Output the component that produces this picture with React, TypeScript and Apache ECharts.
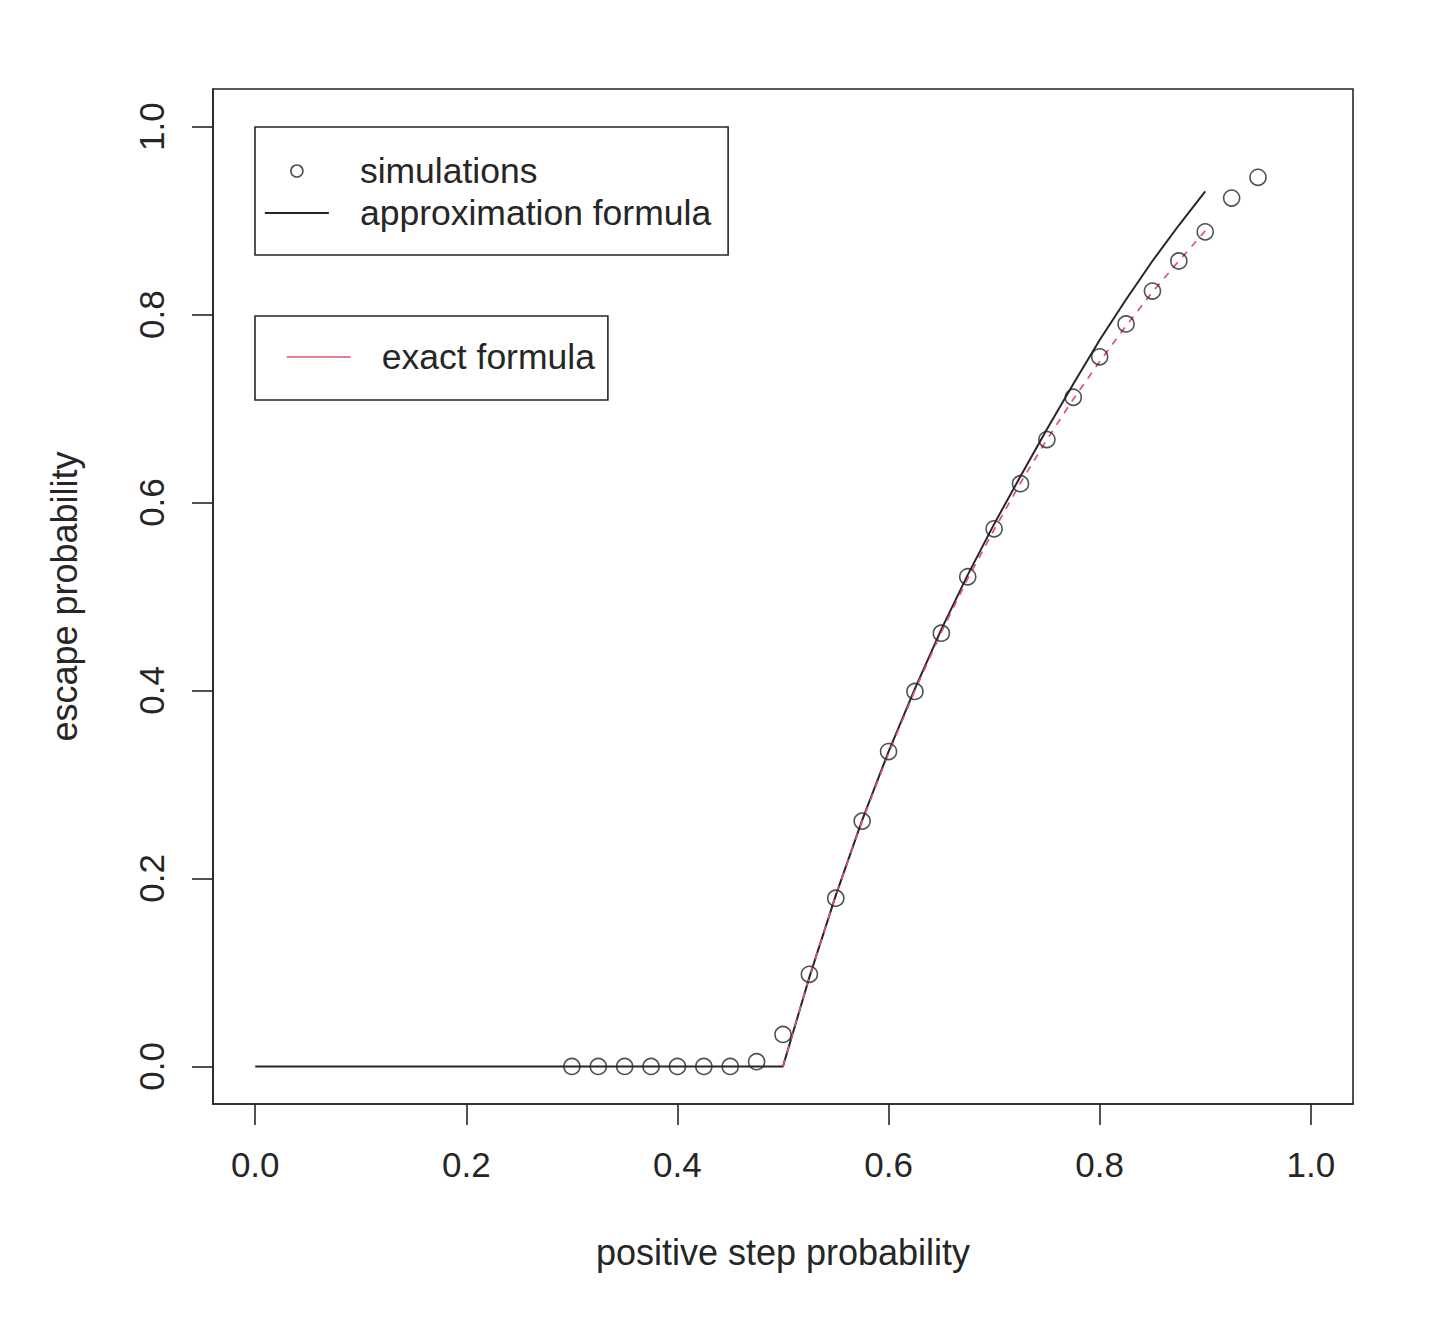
import React, { useEffect, useRef } from "react";
import * as echarts from "echarts";

// ---- data ----
const tickValues = [0, 0.2, 0.4, 0.6, 0.8, 1.0];

const simP = [0.3, 0.325, 0.35, 0.375, 0.4, 0.425, 0.45, 0.475, 0.5, 0.525, 0.55, 0.575, 0.6, 0.625, 0.65, 0.675, 0.7, 0.725, 0.75, 0.775, 0.8, 0.825, 0.85, 0.875, 0.9, 0.925, 0.95];
const simY = [0, 0, 0, 0, 0, 0, 0, 0.005, 0.034, 0.098, 0.179, 0.261, 0.335, 0.399, 0.461, 0.521, 0.572, 0.62, 0.667, 0.712, 0.755, 0.79, 0.825, 0.857, 0.888, 0.924, 0.946];

const approxP = [0, 0.025, 0.05, 0.075, 0.1, 0.125, 0.15, 0.175, 0.2, 0.225, 0.25, 0.275, 0.3, 0.325, 0.35, 0.375, 0.4, 0.425, 0.45, 0.475, 0.5, 0.525, 0.55, 0.575, 0.6, 0.625, 0.65, 0.675, 0.7, 0.725, 0.75, 0.775, 0.8, 0.825, 0.85, 0.875, 0.9];
const approxY = [0, 0, 0, 0, 0, 0, 0, 0, 0, 0, 0, 0, 0, 0, 0, 0, 0, 0, 0, 0, 0, 0.095, 0.182, 0.262, 0.335, 0.402, 0.465, 0.523, 0.577, 0.628, 0.678, 0.726, 0.773, 0.816, 0.857, 0.895, 0.931];

const exactP = [0.5, 0.525, 0.55, 0.575, 0.6, 0.625, 0.65, 0.675, 0.7, 0.725, 0.75, 0.775, 0.8, 0.825, 0.85, 0.875, 0.9];
const exactY = [0, 0.095, 0.182, 0.261, 0.333, 0.4, 0.462, 0.519, 0.571, 0.621, 0.667, 0.71, 0.75, 0.788, 0.824, 0.857, 0.889];

const xTitle = "positive step probability";
const yTitle = "escape probability";

const FONT = "'Liberation Sans', Arial, Helvetica, sans-serif";
const INK = "#262626";
const FS = 35;

export default function App() {
  const ref = useRef<HTMLDivElement>(null);

  useEffect(() => {
    if (!ref.current) return;
    const chart = echarts.init(ref.current, undefined, { renderer: "svg" });
    const zip = (a: number[], b: number[]) => a.map((v, i) => [v, b[i]]);

    const axisCommon = {
      type: "value" as const,
      min: -0.04,
      max: 1.04,
      splitLine: { show: false },
      axisLine: { show: true, onZero: false, lineStyle: { color: INK, width: 1.6 } },
      axisTick: {
        show: true,
        inside: false,
        length: 21,
        customValues: tickValues,
        lineStyle: { color: INK, width: 1.6 },
      },
      nameLocation: "middle" as const,
      nameTextStyle: { fontFamily: FONT, fontSize: 36, color: INK },
    };

    const hiddenSymbol = { color: "rgba(0,0,0,0)", borderWidth: 0, opacity: 0 };

    chart.setOption({
      animation: false,
      backgroundColor: "#ffffff",
      grid: {
        left: 213,
        top: 89,
        width: 1140,
        height: 1015,
        show: true,
        borderColor: INK,
        borderWidth: 1.6,
        backgroundColor: "transparent",
      },
      xAxis: {
        ...axisCommon,
        name: xTitle,
        nameGap: 130,
        axisLabel: {
          customValues: tickValues,
          margin: 43,
          fontFamily: FONT,
          fontSize: FS,
          color: INK,
          formatter: (v: number) => v.toFixed(1),
        },
      },
      yAxis: {
        ...axisCommon,
        name: yTitle,
        nameGap: 131,
        axisLabel: {
          customValues: tickValues,
          rotate: 90,
          margin: 44,
          fontFamily: FONT,
          fontSize: FS,
          color: INK,
          formatter: (v: number) => v.toFixed(1),
        },
      },
      legend: [
        {
          left: 255,
          top: 127,
          orient: "vertical",
          itemWidth: 64,
          itemHeight: 12,
          itemGap: 6,
          padding: [26, 17, 24, 9],
          borderColor: INK,
          borderWidth: 1.6,
          textStyle: { fontFamily: FONT, fontSize: 35.5, color: INK, lineHeight: 35, padding: [0, 0, 0, 26] },
          data: [
            {
              name: "simulations",
              icon: "circle",
              itemStyle: { color: "rgba(0,0,0,0)", borderColor: INK, borderWidth: 1.6 },
            },
            {
              name: "approximation formula",
              itemStyle: hiddenSymbol,
              lineStyle: { color: INK, width: 1.8, type: "solid" },
            },
          ],
        },
        {
          left: 255,
          top: 316,
          orient: "vertical",
          itemWidth: 64,
          itemHeight: 12,
          padding: [23, 13, 25, 31],
          borderColor: INK,
          borderWidth: 1.6,
          textStyle: { fontFamily: FONT, fontSize: 35.5, color: INK, lineHeight: 35, padding: [0, 0, 0, 26] },
          data: [
            {
              name: "exact formula",
              itemStyle: hiddenSymbol,
              lineStyle: { color: "#DF536B", width: 1.6, type: "solid" },
            },
          ],
        },
      ],
      series: [
        {
          name: "approximation formula",
          type: "line",
          data: zip(approxP, approxY),
          showSymbol: false,
          symbol: "none",
          lineStyle: { color: INK, width: 2 },
          itemStyle: { color: INK },
          z: 2,
        },
        {
          name: "exact formula",
          type: "line",
          data: zip(exactP, exactY),
          showSymbol: false,
          symbol: "none",
          lineStyle: { color: "#DF536B", width: 1.7, type: [7, 7] },
          itemStyle: { color: "#DF536B" },
          z: 3,
        },
        {
          name: "simulations",
          type: "scatter",
          data: zip(simP, simY),
          symbol: "circle",
          symbolSize: 16,
          itemStyle: { color: "rgba(0,0,0,0)", borderColor: INK, borderWidth: 1.6 },
          z: 4,
        },
      ],
    });

    return () => chart.dispose();
  }, []);

  return (
    <div
      ref={ref}
      style={{ position: "absolute", left: 0, top: 0, width: 1440, height: 1318, background: "#fff" }}
    />
  );
}
